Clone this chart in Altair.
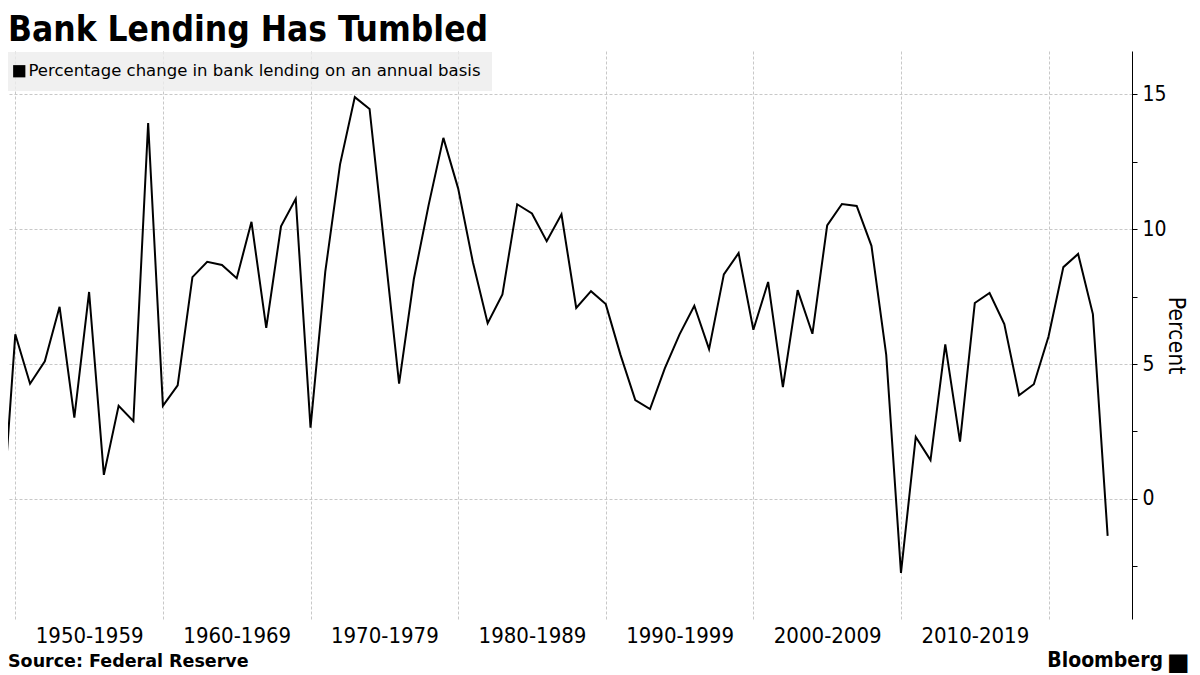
import altair as alt
import pandas as pd

# ---- data ----
years = list(range(1949, 2025))
pct_change = [
    -1.64,                                                   # 1949
    6.10, 4.27, 5.10, 7.12, 3.01, 7.67, 0.89, 3.45, 2.88, 13.93,   # 1950-1959
    3.45, 4.21, 8.22, 8.79, 8.67, 8.18, 10.27, 6.34, 10.10, 11.12,  # 1960-1969
    2.64, 8.42, 12.40, 14.89, 14.45, 9.38, 4.27, 8.15, 10.89, 13.38,  # 1970-1979
    11.51, 8.77, 6.51, 7.58, 10.92, 10.58, 9.55, 10.55, 7.08, 7.70,  # 1980-1989
    7.22, 5.34, 3.66, 3.33, 4.84, 6.10, 7.16, 5.55, 8.32, 9.11,      # 1990-1999
    6.27, 8.04, 4.14, 7.74, 6.12, 10.14, 10.93, 10.86, 9.38, 5.34,   # 2000-2009
    -2.74, 2.30, 1.44, 5.73, 2.12, 7.26, 7.63, 6.48, 3.84, 4.25,     # 2010-2019
    6.03, 8.59, 9.08, 6.85, -1.37,                                   # 2020-2024
]
series_label = "Percentage change in bank lending on an annual basis"
decade_ticks = [1950, 1960, 1970, 1980, 1990, 2000, 2010, 2020]
y_ticks = [-2.5, 0, 2.5, 5, 7.5, 10, 12.5, 15]
title_text = ["Bank Lending Has Tumbled"]
source_text = ["Source: Federal Reserve"]
brand_text = ["Bloomberg"]

df = pd.DataFrame({"year": years, "pct": pct_change,
                   "series": [series_label] * len(years)})

COND = "DejaVu Sans Condensed, DejaVu Sans, sans-serif"
REG = "DejaVu Sans, sans-serif"
W, H = 1124, 568

x_scale = alt.Scale(domain=[1949.506, 2025.65], nice=False, zero=False)
y_scale = alt.Scale(domain=[-4.45, 16.6], nice=False, zero=False)

line = alt.Chart(df).mark_line(strokeWidth=2, clip=True).encode(
    x=alt.X("year:Q", scale=x_scale,
            axis=alt.Axis(values=decade_ticks, title=None, grid=True,
                          gridDash=[3, 2], gridColor="#c8c8c8", gridWidth=1,
                          domain=False, ticks=False,
                          labelExpr="datum.value < 2020 ? datum.value + '-' + (datum.value + 9) : ''",
                          labelOffset=73.85, labelPadding=6, labelFont=COND,
                          labelFontSize=22, labelColor="black",
                          labelOverlap=False, labelFlush=False, labelBound=False)),
    y=alt.Y("pct:Q", scale=y_scale,
            axis=alt.Axis(orient="right", values=y_ticks, title="Percent",
                          grid=True, gridDash=[3, 2], gridColor="#c8c8c8", gridWidth=1,
                          gridOpacity={"condition": {"test": "datum.value % 5 !== 0", "value": 0}, "value": 1},
                          labelExpr="datum.value % 5 === 0 ? datum.label : ''",
                          domainColor="black", domainWidth=1,
                          tickColor="black", tickSize=5, tickWidth=1,
                          labelFont=COND, labelFontSize=21, labelColor="black",
                          labelPadding=5, labelOverlap=False,
                          titleFont=COND, titleFontSize=23, titleFontWeight="normal",
                          titleColor="black", titlePadding=-3)),
    color=alt.Color("series:N", scale=alt.Scale(range=["#000000"]),
                    legend=alt.Legend(title=None, orient="none", legendX=-8, legendY=1,
                                      symbolType="square", symbolSize=150,
                                      symbolFillColor="black", symbolStrokeWidth=0,
                                      labelFont=REG, labelFontSize=16.5, labelColor="black",
                                      labelOffset=1, labelLimit=700,
                                      fillColor="rgba(236,236,236,0.8)", padding=11)),
)

title = alt.Chart(pd.DataFrame({"t": title_text})).mark_text(
    align="left", baseline="alphabetic", font=COND, fontSize=35,
    fontWeight="bold", color="black"
).encode(x=alt.value(0), y=alt.value(-10), text="t:N")

source = alt.Chart(pd.DataFrame({"t": source_text})).mark_text(
    align="left", baseline="alphabetic", font=REG, fontSize=17.5,
    fontWeight="bold", color="black"
).encode(x=alt.value(0), y=alt.value(616), text="t:N")

brand = alt.Chart(pd.DataFrame({"t": brand_text})).mark_text(
    align="right", baseline="alphabetic", font=COND, fontSize=21,
    fontWeight="bold", color="black"
).encode(x=alt.value(1155), y=alt.value(616), text="t:N")

logo = alt.Chart(pd.DataFrame({"t": ["\u25A0"]})).mark_text(
    align="left", baseline="alphabetic", font=REG, fontSize=24, color="black"
).encode(x=alt.value(1159), y=alt.value(619), text="t:N")

chart = alt.layer(line, title, source, brand, logo).properties(
    width=W, height=H,
    autosize=alt.AutoSizeParams(type="none"),
    padding={"left": 0, "top": 43, "right": 60, "bottom": 58},
).configure_view(stroke=None)

chart.save("out.html", embed_options={"renderer": "svg", "actions": False})
